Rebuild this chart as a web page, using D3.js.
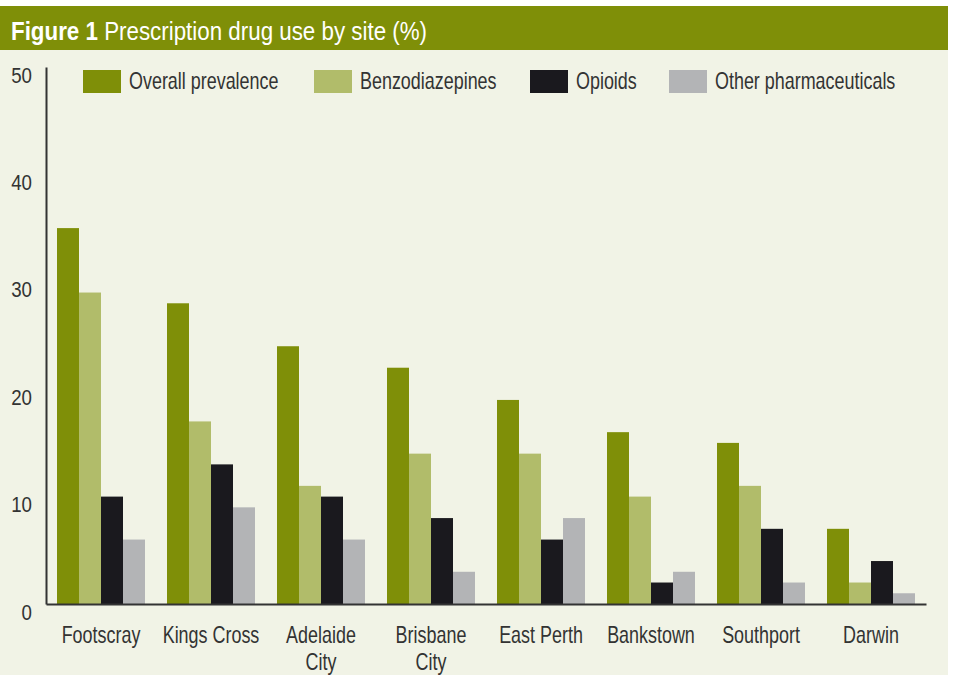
<!DOCTYPE html>
<html>
<head>
<meta charset="utf-8">
<script src="https://cdn.jsdelivr.net/npm/d3@7"></script>
<style>
  body { margin: 0; background: #fff; }
  svg text { font-family: "Liberation Sans", Arial, sans-serif; }
</style>
</head>
<body>
<div id="chart"></div>
<script>
// data
const sites = ["Footscray", "Kings Cross", "Adelaide City", "Brisbane City", "East Perth", "Bankstown", "Southport", "Darwin"]
const seriesNames = ["Overall prevalence", "Benzodiazepines", "Opioids", "Other pharmaceuticals"]
const overall = [35, 28, 24, 22, 19, 16, 15, 7]
const benzo = [29, 17, 11, 14, 14, 10, 11, 2]
const opioids = [10, 13, 10, 8, 6, 2, 7, 4]
const other = [6, 9, 6, 3, 8, 3, 2, 1]
const yTicks = [0, 10, 20, 30, 40, 50]

const colors = ["#7f8f08", "#b1bc6a", "#1a191e", "#b3b4b6"]
const values = [overall, benzo, opioids, other]

var width = 955, height = 675
var margin = {left: 46, right: 29, top: 67, bottom: 71}
// no condensed face installed, so squeeze the text horizontally
var narrow = 0.78

var svg = d3.select("#chart").append("svg")
    .attr("width", width)
    .attr("height", height)

// panel + header band
svg.append("rect").attr("x", 0).attr("y", 6).attr("width", 948).attr("height", height - 6).attr("fill", "#f1f3e6")
svg.append("rect").attr("x", 0).attr("y", 6).attr("width", 948).attr("height", 44).attr("fill", "#7f8f08")

var title = svg.append("text")
    .attr("transform", "translate(11,40) scale(0.86,1)")
    .attr("fill", "#fff")
    .style("font-size", "26px")
title.append("tspan").attr("font-weight", "bold").text("Figure 1")
title.append("tspan").text(" Prescription drug use by site (%)")

var x0 = d3.scaleBand()
    .domain(sites)
    .range([margin.left, width - margin.right])
    .paddingInner(0.2)
    .paddingOuter(0.1)

var x1 = d3.scaleBand()
    .domain(d3.range(seriesNames.length))
    .range([0, x0.bandwidth()])

var yScale = d3.scaleLinear()
    .domain([0, 50])
    .range([height - margin.bottom, margin.top])

// bars
var groups = svg.selectAll("g.site")
    .data(sites)
    .enter()
    .append("g")
        .attr("class", "site")
        .attr("transform", d => "translate(" + x0(d) + ",0)")

groups.selectAll("rect")
    .data((d, i) => values.map((v, s) => ({s: s, v: v[i]})))
    .enter()
    .append("rect")
        .attr("x", d => x1(d.s))
        .attr("y", d => yScale(d.v))
        .attr("width", x1.bandwidth())
        .attr("height", d => yScale(0) - yScale(d.v))
        .attr("fill", d => colors[d.s])

// y axis: line only, labels hanging below the value
var yAxis = d3.axisLeft(yScale).tickValues(yTicks).tickSize(0)
var gy = svg.append("g")
    .attr("transform", "translate(" + margin.left + ",0)")
    .call(yAxis)
gy.select(".domain").attr("stroke", "#333").attr("stroke-width", 2)
gy.selectAll(".tick text")
    .attr("x", null)
    .attr("dy", null)
    .attr("transform", "translate(-14,15) scale(0.85,1)")
    .attr("fill", "#333")
    .style("font-size", "22px")

// x axis
var xAxis = d3.axisBottom(x0).tickSize(0).tickPadding(0)
var gx = svg.append("g")
    .attr("transform", "translate(0," + yScale(0) + ")")
    .call(xAxis)
gx.select(".domain").attr("stroke", "#333").attr("stroke-width", 2)
gx.selectAll(".tick text").remove()
gx.selectAll(".tick").each(function(d) {
    var words = d.split(" ")
    var lines = (words.length > 1 && words[1] == "City") ? [words[0], "City"] : [d]
    var t = d3.select(this).append("text")
        .attr("fill", "#333")
        .attr("text-anchor", "middle")
        .attr("transform", "scale(" + narrow + ",1)")
        .style("font-size", "23px")
    lines.forEach(function(l, i) {
        t.append("tspan").attr("x", 0).attr("y", 39 + i * 27).text(l)
    })
})

// legend
var legendX = [83, 314, 530, 669]
var legend = svg.selectAll("g.legend")
    .data(seriesNames)
    .enter()
    .append("g")
        .attr("class", "legend")
        .attr("transform", (d, i) => "translate(" + legendX[i] + ",70)")
legend.append("rect")
    .attr("width", 38)
    .attr("height", 23)
    .attr("fill", (d, i) => colors[i])
legend.append("text")
    .attr("transform", "translate(46,19) scale(" + narrow + ",1)")
    .attr("fill", "#333")
    .style("font-size", "23px")
    .text(d => d)
</script>
</body>
</html>
